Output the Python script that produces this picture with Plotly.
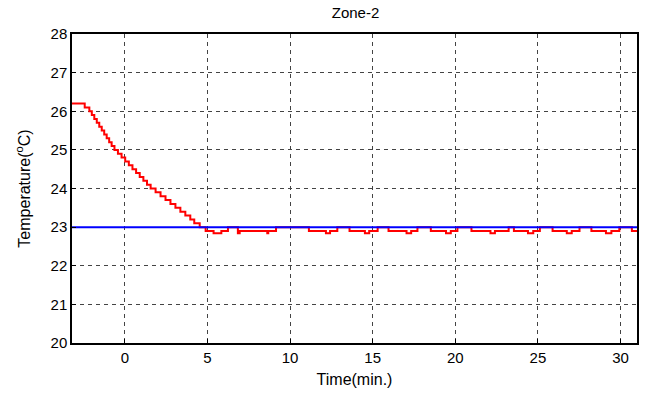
import plotly.graph_objects as go

# Measured zone temperature (step changes), time in minutes
time_min = [-3.2, -2.43, -2.15, -2.0, -1.85, -1.7, -1.55, -1.4, -1.25, -1.1, -0.95, -0.8, -0.63,
            -0.42, -0.2, 0.02, 0.24, 0.46, 0.68, 0.9, 1.12, 1.34, 1.56,
            1.86, 2.16, 2.46, 2.76, 3.06, 3.36, 3.66, 3.96, 4.2, 4.53,
            4.89, 5.37, 5.84, 6.24,
            6.84, 6.95, 8.62, 8.68, 9.15,
            11.14, 12.17, 12.42, 12.86,
            13.60, 14.53, 14.79, 15.30,
            15.96, 17.05, 17.33, 17.71,
            18.52, 19.44, 19.73, 20.13,
            20.98, 22.13, 22.40, 23.23,
            23.55, 24.40, 24.72, 25.12,
            25.89, 26.75, 27.05, 27.52,
            28.24, 29.12, 29.45, 29.93,
            30.69, 31.0]
temp_zone = [26.2, 26.1, 26.0, 25.9, 25.8, 25.7, 25.6, 25.5, 25.4, 25.3, 25.2, 25.1, 25.0,
             24.9, 24.8, 24.7, 24.6, 24.5, 24.4, 24.3, 24.2, 24.1, 24.0,
             23.9, 23.8, 23.7, 23.6, 23.5, 23.4, 23.3, 23.2, 23.1, 23.0,
             22.9, 22.84, 22.9, 23.0,
             22.84, 22.9, 22.84, 22.9, 23.0,
             22.9, 22.84, 22.9, 23.0,
             22.9, 22.84, 22.9, 23.0,
             22.9, 22.84, 22.9, 23.0,
             22.9, 22.84, 22.9, 23.0,
             22.9, 22.84, 22.9, 23.0,
             22.9, 22.84, 22.9, 23.0,
             22.9, 22.84, 22.9, 23.0,
             22.9, 22.84, 22.9, 23.0,
             22.9, 22.9]

# Set-point
setpoint_time = [-3.2, 31.0]
setpoint_temp = [23.0, 23.0]

x_ticks = [0, 5, 10, 15, 20, 25, 30]
y_ticks = [20, 21, 22, 23, 24, 25, 26, 27, 28]

font_family = "Liberation Sans, Arial, sans-serif"

fig = go.Figure()
fig.add_trace(go.Scatter(x=time_min, y=temp_zone, mode="lines",
                         line=dict(color="#ff0000", width=2, shape="hv"),
                         showlegend=False))
fig.add_trace(go.Scatter(x=setpoint_time, y=setpoint_temp, mode="lines",
                         line=dict(color="#0000ff", width=2),
                         showlegend=False))

axis_common = dict(showline=True, linecolor="black", linewidth=1.5, mirror=True,
                   ticks="inside", ticklen=4, tickcolor="black",
                   showgrid=True, gridcolor="#444444", griddash="4px,4px", gridwidth=1,
                   zeroline=False, tickfont=dict(size=15, color="black", family=font_family))

fig.update_layout(
    width=648, height=395,
    margin=dict(l=72, r=9, t=34, b=52),
    paper_bgcolor="white", plot_bgcolor="white",
    title=dict(text="Zone-2", x=0.5486, xanchor="center", y=0.968, yanchor="middle",
               yref="container",
               font=dict(size=15, color="black", family=font_family)),
    xaxis=dict(range=[-3.2, 31.0], tickvals=x_ticks,
               title=dict(text="Time(min.)", standoff=9,
                          font=dict(size=16, color="black", family=font_family)),
               **axis_common),
    yaxis=dict(range=[20, 28], tickvals=y_ticks,
               title=dict(text="Temperature(<sup>o</sup>C)", standoff=16,
                          font=dict(size=16, color="black", family=font_family)),
               **axis_common),
)

fig.write_html("out.html")
